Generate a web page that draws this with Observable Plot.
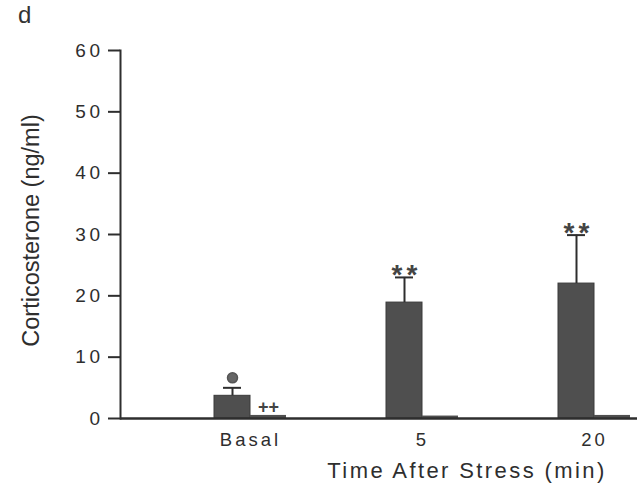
<!DOCTYPE html>
<html>
<head>
<meta charset="utf-8">
<script src="https://cdn.jsdelivr.net/npm/d3@7"></script>
<script src="https://cdn.jsdelivr.net/npm/@observablehq/plot@0.6"></script>
<style>
  html, body { margin: 0; padding: 0; background: #fff; }
  #wrap { position: relative; width: 637px; height: 487px; }
  #panel { position: absolute; z-index: 1; left: 18px; top: 1px; font: 24px "Liberation Sans", Arial, sans-serif; color: #333; }
  g[aria-label="y-axis tick label"] text { letter-spacing: 3.5px; }
  g[aria-label="x-axis tick label"] text { letter-spacing: 3px; }
  .xtitle text { letter-spacing: 2.4px; }
  .stars text { letter-spacing: 4px; }
</style>
</head>
<body>
<div id="wrap"><div id="panel">d</div></div>
<script>
// Plasma corticosterone after stress: stressed group (dark bars, mean + SEM) and controls
const groups = ["Basal", "5", "20"];
const stressMean = [3.7, 18.9, 22.0];
const stressSem = [1.3, 4.1, 7.9];
const controlMean = [0.5, 0.4, 0.5];
const starLabels = ["", "**", "**"];
const plusLabels = ["++", "", ""];
const circleGroups = ["Basal"];
const yTicks = [0, 10, 20, 30, 40, 50, 60];

const rows = groups.map((g, i) => ({
  group: g,
  mean: stressMean[i],
  top: stressMean[i] + stressSem[i],
  control: controlMean[i],
  stars: starLabels[i],
  plus: plusLabels[i]
}));

const ink = "#2e2e2e";
const barFill = "#4f4f4f";

const chart = Plot.plot({
  width: 637,
  height: 487,
  marginLeft: 120,
  marginRight: 0,
  marginTop: 50,
  marginBottom: 69,
  style: { fontFamily: "'Liberation Sans', Arial, sans-serif", color: ink, background: "white" },
  x: { domain: groups, range: [213.5, 629.5], paddingInner: 0.5814, paddingOuter: 0 },
  y: { domain: [0, 60] },
  marks: [
    Plot.barY(rows, { x: "group", y: "mean", insetRight: 36, fill: barFill, stroke: "#3a3a3a", strokeWidth: 1 }),
    Plot.barY(rows, { x: "group", y: "control", insetLeft: 36, fill: barFill }),
    Plot.ruleX(rows, { x: "group", y1: "mean", y2: "top", dx: -18, stroke: ink, strokeWidth: 2 }),
    Plot.tickY(rows, { x: "group", y: "top", insetLeft: 9, insetRight: 45, stroke: ink, strokeWidth: 2 }),
    Plot.text(rows, { x: "group", y: "top", text: "stars", dx: -16, dy: -2, fontSize: 28, fontWeight: "bold", fill: "#444", lineAnchor: "middle", className: "stars" }),
    Plot.dot(rows.filter(d => circleGroups.includes(d.group)), { x: "group", y: "top", dx: -18, dy: -10, r: 5, fill: "#666", stroke: "#555" }),
    Plot.text(rows, { x: "group", y: "control", text: "plus", dx: 18, dy: -8, fontSize: 18, fontWeight: "bold", fill: "#444", lineAnchor: "middle" }),
    Plot.ruleY([0], { stroke: ink, strokeWidth: 2.5 }),
    Plot.frame({ anchor: "left", stroke: ink, strokeWidth: 2 }),
    Plot.axisY({ ticks: yTicks, tickSize: 12, tickPadding: 5, fontSize: 19, stroke: ink, strokeWidth: 2, label: null }),
    Plot.axisX({ tickSize: 0, tickPadding: 14, fontSize: 18.5, label: null }),
    Plot.text(["Corticosterone (ng/ml)"], { frameAnchor: "left", textAnchor: "middle", rotate: -90, dx: -89, dy: -4, fontSize: 23.5, lineAnchor: "middle", fill: ink }),
    Plot.text(["Time After Stress (min)"], { frameAnchor: "bottom", dx: 88, dy: 52, fontSize: 22, lineAnchor: "middle", fill: ink, className: "xtitle" })
  ]
});

document.getElementById("wrap").appendChild(chart);
</script>
</body>
</html>
